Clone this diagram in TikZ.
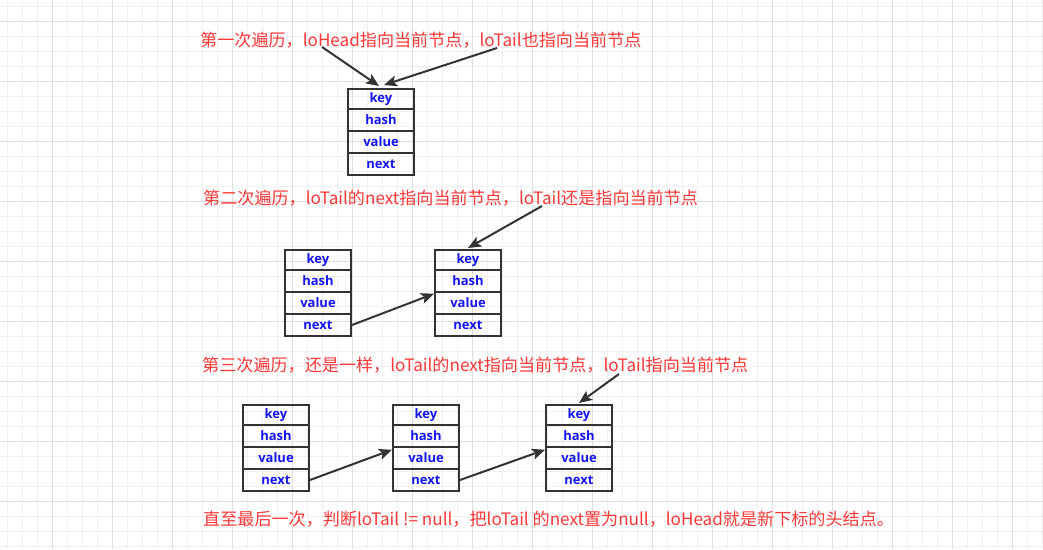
\documentclass[tikz,border=0pt]{standalone}
\usepackage{fontspec}
\setmainfont{Noto Sans CJK SC}
\newfontfamily\boxfont{Open Sans}
\usetikzlibrary{arrows.meta,calc}
\definecolor{redtxt}{HTML}{FF3838}
\definecolor{boxblue}{HTML}{1414F5}
\definecolor{boxgray}{HTML}{333333}
\definecolor{gridminor}{HTML}{F0F0F0}
\definecolor{gridmajor}{HTML}{DEDEDE}
\tikzset{
  cell/.style={draw=boxgray, line width=2pt, minimum width=66pt, inner sep=0pt, anchor=north west,
    font=\boxfont\bfseries\fontsize{13}{14}\selectfont, text=boxblue},
  note/.style={text=redtxt, anchor=west, inner sep=0pt, font=\fontsize{17.1}{20}\selectfont},
  link/.style={draw=boxgray, line width=2pt, -{Stealth[length=13pt,width=11pt,inset=3pt]}},
  minorline/.style={draw=gridminor, line width=1pt},
  majorline/.style={draw=gridmajor, line width=1pt},
}
\newcommand\entrybox[3]{%
  \node[cell, minimum height=19.5pt] (#1k) at (#2,#3) {\raisebox{-2pt}{key}};
  \node[cell, minimum height=22pt] (#1h) at (#2,#3+19.5) {hash};
  \node[cell, minimum height=22.5pt] (#1v) at (#2,#3+41.5) {value};
  \node[cell, minimum height=22pt] (#1n) at (#2,#3+64) {next};
}
\begin{document}
\begin{tikzpicture}[x=1pt,y=-1pt]
\useasboundingbox (0,0) rectangle (1043,549);
\fill[white] (0,0) rectangle (1043,549);
% grid
\foreach \x in {7,22,...,1042} \draw[minorline] (\x,0) -- (\x,549);
\foreach \y in {6,21,...,548} \draw[minorline] (0,\y) -- (1043,\y);
\foreach \x in {52,112,...,1042} \draw[majorline] (\x,0) -- (\x,549);
\foreach \y in {21,81,...,548} \draw[majorline] (0,\y) -- (1043,\y);

% stage 1
\node[note] (t1) at (200,40) {第一次遍历，loHead指向当前节点，loTail也指向当前节点};
\entrybox{b1}{347}{88}
\coordinate (p1) at (322,47);
\coordinate (p2) at (497,48);
\draw[link] (p1) -- ($(b1k.north)+(-2,-2)$);
\draw[link] (p2) -- ($(b1k.north)+(3,-3)$);

% stage 2
\node[note] (t2) at (203,198) {第二次遍历，loTail的next指向当前节点，loTail还是指向当前节点};
\entrybox{a}{284}{249}
\entrybox{b}{434}{249}
\draw[link] (an.east) -- ($(bv.west)+(0,-9)$);
\coordinate (p3) at (542,206);
\draw[link] (p3) -- ($(bk.north)+(0,-1)$);

% stage 3
\node[note] (t3) at (202,365) {第三次遍历，还是一样，loTail的next指向当前节点，loTail指向当前节点};
\entrybox{c}{242}{404}
\entrybox{d}{392}{404}
\entrybox{e}{545}{404}
\draw[link] (cn.east) -- ($(dv.west)+(0,-8)$);
\draw[link] (dn.east) -- ($(ev.west)+(0,-8)$);
\coordinate (p4) at (619,374);
\draw[link] (p4) -- ($(ek.north)+(0,-1)$);

% final
\node[note] (t4) at (203,519) {直至最后一次，判断loTail != null，把loTail 的next置为null，loHead就是新下标的头结点。};
\end{tikzpicture}
\end{document}
